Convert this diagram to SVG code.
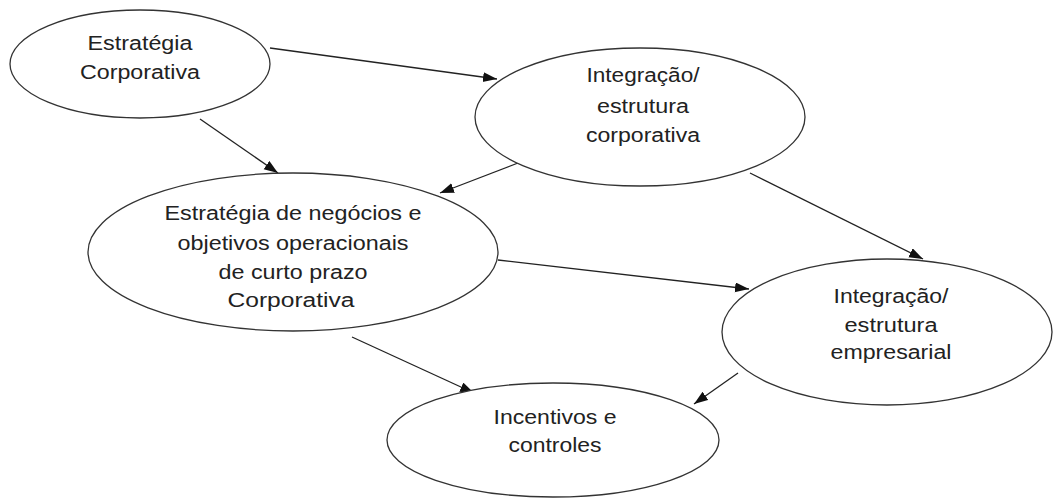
<svg xmlns="http://www.w3.org/2000/svg" width="1053" height="498" viewBox="0 0 1053 498">
  <style>
    .node ellipse { fill: #ffffff; stroke: #333333; stroke-width: 1.3; }
    .node text { font-family: "Liberation Sans", Arial, sans-serif; font-size: 19.5px; fill: #222222; text-anchor: middle; }
    .edge { stroke: #222222; stroke-width: 1.3; fill: none; marker-end: url(#arrow); }
  </style>
  <defs>
    <marker id="arrow" markerUnits="userSpaceOnUse" markerWidth="15" markerHeight="11" refX="14" refY="5" orient="auto">
      <path d="M0,0 L14,5 L0,10 z" fill="#111111"/>
    </marker>
  </defs>
  <rect width="1053" height="498" fill="#ffffff"/>

  <!-- connectors -->
  <g id="connectors">
    <line class="edge" x1="270" y1="48" x2="497" y2="79"/>
    <line class="edge" x1="200" y1="119" x2="278" y2="173"/>
    <line class="edge" x1="518" y1="163" x2="440" y2="193"/>
    <line class="edge" x1="750" y1="173" x2="923" y2="259"/>
    <line class="edge" x1="498" y1="260" x2="749" y2="289"/>
    <line class="edge" x1="352" y1="337" x2="474" y2="393"/>
    <line class="edge" x1="738" y1="373" x2="694" y2="404"/>
  </g>

  <g id="estrategia-corporativa" class="node">
    <ellipse cx="140" cy="64" rx="130" ry="54"/>
    <text x="140" y="50" textLength="105" lengthAdjust="spacingAndGlyphs">Estratégia</text>
    <text x="140" y="79" textLength="120" lengthAdjust="spacingAndGlyphs">Corporativa</text>
  </g>

  <g id="integracao-corporativa" class="node">
    <ellipse cx="640" cy="117" rx="165" ry="69"/>
    <text x="643" y="82" textLength="113" lengthAdjust="spacingAndGlyphs">Integração/</text>
    <text x="643" y="113" textLength="92" lengthAdjust="spacingAndGlyphs">estrutura</text>
    <text x="643" y="142" textLength="114" lengthAdjust="spacingAndGlyphs">corporativa</text>
  </g>

  <g id="estrategia-negocios" class="node">
    <ellipse cx="293" cy="252" rx="205" ry="79"/>
    <text x="293" y="220" textLength="257" lengthAdjust="spacingAndGlyphs">Estratégia de negócios e</text>
    <text x="293" y="250" textLength="231" lengthAdjust="spacingAndGlyphs">objetivos operacionais</text>
    <text x="293" y="279" textLength="149" lengthAdjust="spacingAndGlyphs">de curto prazo</text>
    <text x="291" y="307" textLength="127" lengthAdjust="spacingAndGlyphs">Corporativa</text>
  </g>

  <g id="integracao-empresarial" class="node">
    <ellipse cx="887" cy="332" rx="165" ry="73"/>
    <text x="891" y="303" textLength="115" lengthAdjust="spacingAndGlyphs">Integração/</text>
    <text x="891" y="332" textLength="93" lengthAdjust="spacingAndGlyphs">estrutura</text>
    <text x="891" y="359" textLength="121" lengthAdjust="spacingAndGlyphs">empresarial</text>
  </g>

  <g id="incentivos-controles" class="node">
    <ellipse cx="553" cy="440" rx="166" ry="57"/>
    <text x="555" y="424" textLength="123" lengthAdjust="spacingAndGlyphs">Incentivos e</text>
    <text x="555" y="452" textLength="93" lengthAdjust="spacingAndGlyphs">controles</text>
  </g>
</svg>
